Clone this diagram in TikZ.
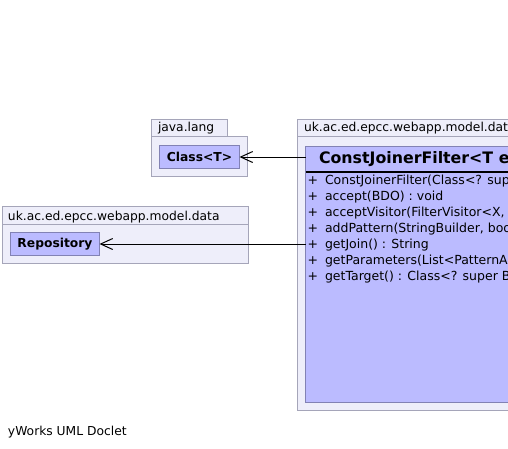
\documentclass[tikz,border=0pt]{standalone}
\usepackage{fontspec}
\setmainfont{DejaVu Sans}
\usetikzlibrary{arrows.meta}
\definecolor{pkgfill}{RGB}{238,238,250}
\definecolor{pkgdraw}{RGB}{165,165,185}
\definecolor{clsfill}{RGB}{187,187,255}
\definecolor{clsdraw}{RGB}{130,130,180}
\tikzset{
  pkg/.style={draw=pkgdraw, fill=pkgfill, line width=1pt, anchor=north west, inner sep=0pt, outer sep=0pt},
  cls/.style={draw=clsdraw, fill=clsfill, line width=1pt, anchor=north west, inner sep=0pt, outer sep=0pt},
  lbl/.style={anchor=base west, inner sep=0pt, outer sep=0pt, font=\fontsize{12.3}{14}\selectfont},
  mlbl/.style={anchor=base west, inner sep=0pt, outer sep=0pt, font=\fontsize{12.5}{14}\selectfont},
  boldlbl/.style={font=\fontsize{12.3}{14}\selectfont\bfseries},
  titlelbl/.style={anchor=base west, inner sep=0pt, outer sep=0pt, font=\fontsize{15.8}{18}\selectfont\bfseries},
  dep/.style={-{Straight Barb[length=12pt,width=11pt]}, line width=1pt},
}
\newcommand{\mplus}{\makebox[17.5pt][l]{+}}
\begin{document}
\begin{tikzpicture}[x=1pt,y=-1pt]
\useasboundingbox (0,0) rectangle (508,448);
\clip (0,0) rectangle (508,448);
\fill[white] (0,0) rectangle (508,448);
% java.lang package
\node[pkg, minimum width=75.5pt, minimum height=16.5pt] (jlTab) at (151.5,119.5) {};
\node[pkg, minimum width=96pt, minimum height=40pt] (jlBody) at (151.5,136) {};
\node[lbl] (jlName) at (158,131.5) {java.lang};
\node[cls, boldlbl, minimum width=80pt, minimum height=23pt] (classT) at (159.5,145.5) {Class<T>};
% data package (repository)
\node[pkg, minimum width=246pt, minimum height=18pt] (rpTab) at (2.5,206.5) {};
\node[pkg, minimum width=246pt, minimum height=39pt] (rpBody) at (2.5,224.5) {};
\node[lbl] (rpName) at (8,220) {uk.ac.ed.epcc.webapp.model.data};
\node[cls, boldlbl, minimum width=89pt, minimum height=23pt] (repo) at (10.5,232.5) {Repository};
% data package (filter)
\node[pkg, minimum width=260pt, minimum height=16.5pt] (fTab) at (297.5,119.5) {};
\node[pkg, minimum width=270pt, minimum height=274pt] (fBody) at (297.5,136) {};
\node[lbl] (fName) at (304,131.5) {uk.ac.ed.epcc.webapp.model.data};
\node[cls, minimum width=260pt, minimum height=256.5pt] (filter) at (305.5,146) {};
\node[titlelbl] (fTitle) at (319,163.5) {ConstJoinerFilter<T extends DataObject, BDO extends DataObject>};
\draw[line width=2pt] (305.5,171.7) -- (570,171.7);
\node[mlbl] (m1) at (307.5,184.5) {\mplus ConstJoinerFilter(Class<? super BDO>, String, Class<T>)};
\node[mlbl] (m2) at (307.5,200.5) {\mplus accept(BDO) : void};
\node[mlbl] (m3) at (307.5,216.5) {\mplus acceptVisitor(FilterVisitor<X, T>) : X};
\node[mlbl] (m4) at (307.5,232.5) {\mplus addPattern(StringBuilder, boolean) : StringBuilder};
\node[mlbl] (m5) at (307.5,248.5) {\mplus getJoin() : String};
\node[mlbl] (m6) at (307.5,264.5) {\mplus getParameters(List<PatternArgument>) : List<PatternArgument>};
\node[mlbl] (m7) at (307.5,280.5) {\mplus getTarget() : Class<? super BDO>};
% dependencies
\draw[dep] (filter.west |- classT.east) -- (classT.east);
\draw[dep] (filter.west |- repo.east) -- (repo.east);
% footer
\node[lbl] (footer) at (8,435) {yWorks UML Doclet};
\end{tikzpicture}
\end{document}
